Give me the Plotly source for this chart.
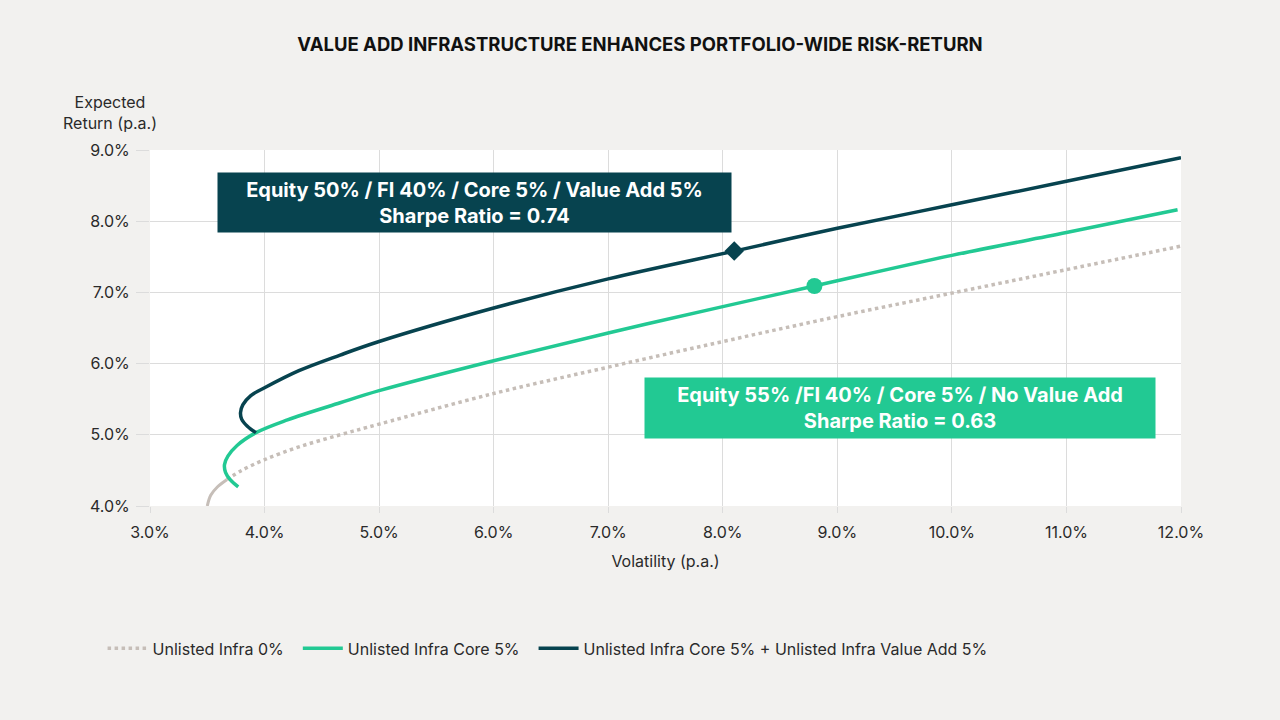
import plotly.graph_objects as go

# ---- data (percent) ----
vol_infra0 = [3.50, 3.53, 3.59, 3.67]
ret_infra0 = [4.00, 4.15, 4.27, 4.37]
vol_infra0_dot = [3.67, 3.80, 4.00, 4.30, 4.66, 5.00, 6.00, 7.00, 8.00, 9.00, 10.00, 11.00, 12.00]
ret_infra0_dot = [4.37, 4.50, 4.65, 4.83, 5.00, 5.15, 5.58, 5.95, 6.31, 6.66, 6.99, 7.32, 7.65]

vol_core = [3.77, 3.70, 3.66, 3.65, 3.68, 3.76, 3.925, 4.20, 4.66, 5.00, 6.00, 7.00, 8.00, 8.80, 10.00, 11.00, 11.97]
ret_core = [4.27, 4.37, 4.47, 4.58, 4.70, 4.85, 5.03, 5.21, 5.45, 5.62, 6.04, 6.43, 6.80, 7.09, 7.52, 7.84, 8.16]

vol_va = [3.925, 3.85, 3.80, 3.79, 3.81, 3.88, 4.00, 4.30, 4.66, 5.00, 6.00, 7.00, 8.10, 9.00, 10.00, 11.00, 12.00]
ret_va = [5.03, 5.12, 5.22, 5.31, 5.42, 5.55, 5.66, 5.90, 6.12, 6.31, 6.78, 7.19, 7.58, 7.90, 8.23, 8.56, 8.89]

marker_core = (8.80, 7.09)
marker_va = (8.10, 7.58)

x_ticks = [3, 4, 5, 6, 7, 8, 9, 10, 11, 12]
y_ticks = [4, 5, 6, 7, 8, 9]

title = "VALUE ADD INFRASTRUCTURE ENHANCES PORTFOLIO-WIDE RISK-RETURN"
box_va = "Equity 50% / FI 40% / Core 5% / Value Add 5%<br>Sharpe Ratio = 0.74"
box_core = "Equity 55% /FI 40% / Core 5% / No Value Add<br>Sharpe Ratio = 0.63"
names = ["Unlisted Infra 0%", "Unlisted Infra Core 5%",
         "Unlisted Infra Core 5% + Unlisted Infra Value Add 5%"]
PAD = "\u00a0\u00a0"

DARK = "#07434f"
GREEN = "#22c993"
GREY = "#c6beb8"
BG = "#f2f1ef"
FONT = "Inter"
TXT = "#2a2a2a"

fig = go.Figure()

fig.add_trace(go.Scatter(x=vol_infra0, y=ret_infra0, mode="lines",
                         line=dict(color=GREY, width=3, shape="spline"),
                         showlegend=False, hoverinfo="skip"))
fig.add_trace(go.Scatter(x=vol_infra0_dot, y=ret_infra0_dot, mode="lines",
                         name=names[0] + PAD,
                         line=dict(color=GREY, width=3.5, dash="dot", shape="spline")))
fig.add_trace(go.Scatter(x=vol_core, y=ret_core, mode="lines",
                         name=names[1] + PAD,
                         line=dict(color=GREEN, width=3.5, shape="spline")))
fig.add_trace(go.Scatter(x=vol_va, y=ret_va, mode="lines",
                         name=names[2],
                         line=dict(color=DARK, width=3.5, shape="spline")))

fig.add_trace(go.Scatter(x=[marker_core[0]], y=[marker_core[1]], mode="markers",
                         marker=dict(color=GREEN, size=16, symbol="circle"),
                         showlegend=False))
fig.add_trace(go.Scatter(x=[marker_va[0]], y=[marker_va[1]], mode="markers",
                         marker=dict(color=DARK, size=15, symbol="diamond"),
                         showlegend=False))

fig.add_annotation(x=5.83, y=8.26, xref="x", yref="y", text=box_va, showarrow=False,
                   font=dict(family=FONT, size=20, color="white", weight="bold"),
                   bgcolor=DARK, width=505, height=51, borderpad=4, align="center")
fig.add_annotation(x=9.545, y=5.37, xref="x", yref="y", text=box_core, showarrow=False,
                   font=dict(family=FONT, size=20, color="white", weight="bold"),
                   bgcolor=GREEN, width=502, height=52, borderpad=4, align="center")

fig.add_annotation(x=-0.039, y=1.0, xref="paper", yref="paper", xanchor="center",
                   yanchor="bottom", yshift=15, text="Expected<br>Return (p.a.)",
                   showarrow=False, font=dict(family=FONT, size=16, color=TXT),
                   align="center")

fig.update_layout(
    width=1280, height=720,
    paper_bgcolor=BG, plot_bgcolor="white",
    margin=dict(l=150, r=99, t=150, b=214),
    title=dict(text=title, x=0.5, xanchor="center", y=0.938, yanchor="middle",
               font=dict(family=FONT, size=18.5, color="#111", weight="bold")),
    font=dict(family=FONT, size=16, color=TXT),
    xaxis=dict(range=[3, 12], tickvals=x_ticks,
               ticktext=[f"{v:.1f}%" for v in x_ticks],
               showgrid=True, gridcolor="#dcdcdc", gridwidth=1,
               zeroline=False, showline=False,
               ticks="outside", ticklen=6, tickcolor="#dcdcdc",
               ticklabelstandoff=6,
               title=dict(text="Volatility (p.a.)", standoff=14,
                          font=dict(family=FONT, size=16, color=TXT))),
    yaxis=dict(range=[4, 9], tickvals=y_ticks,
               ticktext=[f"{v:.1f}%" for v in y_ticks],
               showgrid=True, gridcolor="#dcdcdc", gridwidth=1,
               zeroline=False, showline=False,
               ticks="outside", ticklen=13, tickcolor="#dcdcdc",
               ticklabelstandoff=3),
    legend=dict(orientation="h", x=-0.046, xanchor="left", y=-0.40, yanchor="middle",
                font=dict(family=FONT, size=16, color=TXT),
                bgcolor="rgba(0,0,0,0)", itemwidth=40, tracegroupgap=0),
)

fig.write_html("out.html")
